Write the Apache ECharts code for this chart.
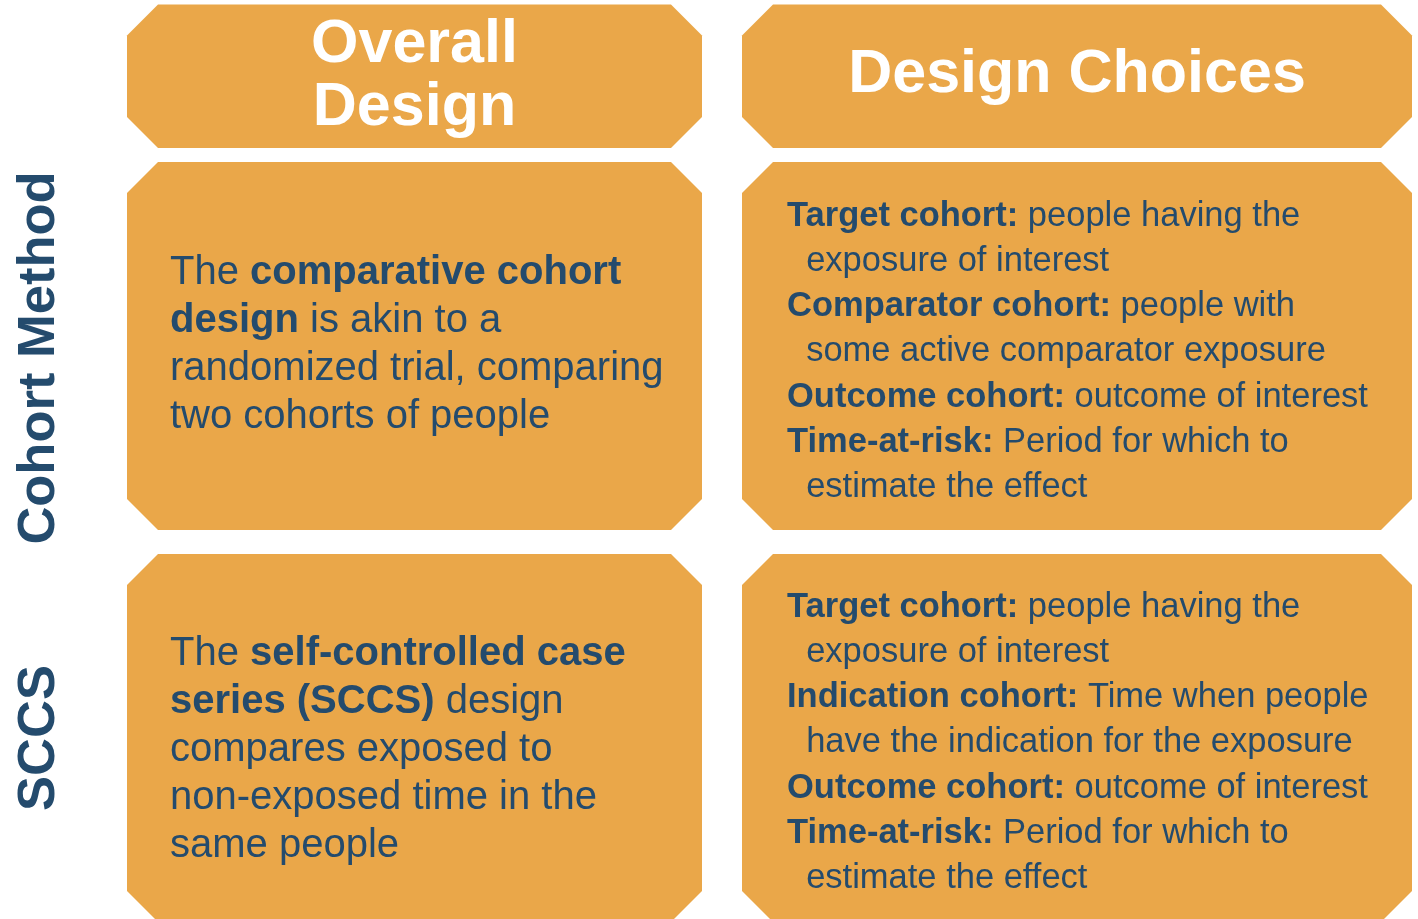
<!DOCTYPE html>
<html>
<head>
<meta charset="utf-8">
<script src="https://cdn.jsdelivr.net/npm/echarts@6/dist/echarts.min.js"></script>
<style>
html,body{margin:0;padding:0;background:#fff;}
#main{width:1418px;height:919px;}
</style>
</head>
<body>
<div id="main"></div>
<script>
// ---- data ----
const colHeaders = ['Overall\nDesign', 'Design Choices'];
const rowLabels = ['Cohort Method', 'SCCS'];
const overallDesign = [
  'The {b|comparative cohort}\n{b|design} is akin to a\nrandomized trial, comparing\ntwo cohorts of people',
  'The {b|self-controlled case}\n{b|series (SCCS)} design\ncompares exposed to\nnon-exposed time in the\nsame people'
];
const designChoices = [
  '{b|Target cohort:} people having the\n  exposure of interest\n{b|Comparator cohort:} people with\n  some active comparator exposure\n{b|Outcome cohort:} outcome of interest\n{b|Time-at-risk:} Period for which to\n  estimate the effect',
  '{b|Target cohort:} people having the\n  exposure of interest\n{b|Indication cohort:} Time when people\n  have the indication for the exposure\n{b|Outcome cohort:} outcome of interest\n{b|Time-at-risk:} Period for which to\n  estimate the effect'
];

// ---- layout / style ----
const ORANGE = '#EAA749';
const BLUE = '#244B6D';
const FONT = '"Liberation Sans", Arial, Helvetica, sans-serif';
const COLS = [[127, 702], [742, 1412]];
const ROWS = [[4.5, 148], [162, 530], [554, 922]];
const CHAMFER = 31;
const LEFT_TEXT = {dx: 43, top: [0, 87, 76]};
const RIGHT_TEXT = {dx: 45, top: [0, 31.4, 30.4]};

// cells: [col, row]
const cells = [];
colHeaders.forEach((t, c) => cells.push([c, 0]));
rowLabels.forEach((t, r) => { cells.push([0, r + 1]); cells.push([1, r + 1]); });

function richFor(size, lh) {
  return {
    b: {fontWeight: 'bold', fontSize: size, fontFamily: FONT, fill: BLUE, lineHeight: lh},
    n: {fontWeight: 'normal', fontSize: size, fontFamily: FONT, fill: BLUE, lineHeight: lh}
  };
}

function renderCell(params, api) {
  const c = api.value(0), r = api.value(1);
  const p0 = api.coord([COLS[c][0], ROWS[r][0]]);
  const p1 = api.coord([COLS[c][1], ROWS[r][1]]);
  const x0 = p0[0], y0 = p0[1], x1 = p1[0], y1 = p1[1];
  const k = CHAMFER;
  const pts = [[x0 + k, y0], [x1 - k, y0], [x1, y0 + k], [x1, y1 - k], [x1 - k, y1], [x0 + k, y1], [x0, y1 - k], [x0, y0 + k]];
  const children = [{type: 'polygon', shape: {points: pts}, style: {fill: ORANGE}}];
  if (r === 0) {
    children.push({
      type: 'text',
      style: {
        text: colHeaders[c], x: (x0 + x1) / 2, y: (y0 + y1) / 2 - (c === 0 ? 0 : 1),
        fill: '#ffffff', font: 'bold 61px ' + FONT, lineHeight: 63,
        textAlign: 'center', textVerticalAlign: 'middle'
      }
    });
  } else if (c === 0) {
    children.push({
      type: 'text',
      style: {
        text: overallDesign[r - 1], x: x0 + LEFT_TEXT.dx, y: y0 + LEFT_TEXT.top[r],
        fill: BLUE, fontSize: 40, fontFamily: FONT, lineHeight: 48,
        textAlign: 'left', textVerticalAlign: 'top', rich: richFor(40, 48)
      }
    });
  } else {
    children.push({
      type: 'text',
      style: {
        text: designChoices[r - 1], x: x0 + RIGHT_TEXT.dx, y: y0 + RIGHT_TEXT.top[r],
        fill: BLUE, fontSize: 34.5, fontFamily: FONT, lineHeight: 45.3,
        textAlign: 'left', textVerticalAlign: 'top', rich: richFor(34.5, 45.3)
      }
    });
  }
  return {type: 'group', children: children};
}

function renderRowLabel(params, api) {
  const r = api.value(0);
  const p0 = api.coord([0, ROWS[r + 1][0]]);
  const p1 = api.coord([0, ROWS[r + 1][1]]);
  const cy = r === 0 ? (p0[1] + p1[1]) / 2 + 12 : (p0[1] + p1[1]) / 2;
  return {
    type: 'text',
    x: 40, y: cy, rotation: Math.PI / 2,
    style: {
      text: rowLabels[r], x: 0, y: 0, fill: BLUE, font: 'bold 52.5px ' + FONT,
      textAlign: 'center', textVerticalAlign: 'middle'
    }
  };
}

const chart = echarts.init(document.getElementById('main'), null, {renderer: 'canvas'});
chart.setOption({
  backgroundColor: '#ffffff',
  animation: false,
  grid: {left: 0, right: 0, top: 0, bottom: 0},
  xAxis: {type: 'value', min: 0, max: 1418, show: false},
  yAxis: {type: 'value', min: 0, max: 919, inverse: true, show: false},
  series: [
    {type: 'custom', renderItem: renderCell, data: cells, clip: false, silent: true},
    {type: 'custom', renderItem: renderRowLabel, data: rowLabels.map((t, i) => [i]), clip: false, silent: true}
  ]
});
</script>
</body>
</html>
